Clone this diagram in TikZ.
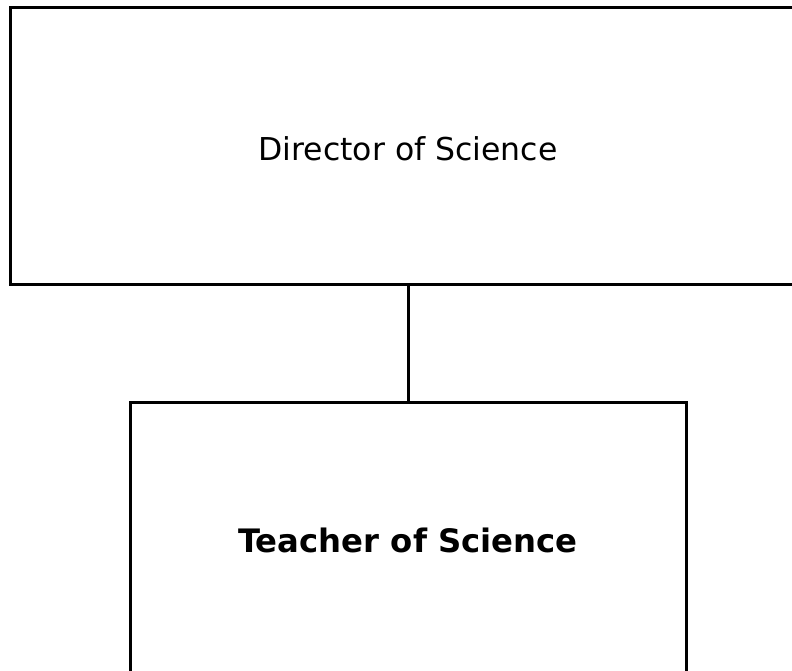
\documentclass[tikz,border=0pt]{standalone}
\usepackage{fontspec}
\setmainfont{DejaVu Sans}
\usepackage{tikz}

\begin{document}
\begin{tikzpicture}[x=1pt, y=1pt,
  post/.style={draw, line width=3pt, inner xsep=0pt, inner ysep=0pt, anchor=base}]
\useasboundingbox (0,0) rectangle (792,671);
\node[post, font=\fontsize{31.5}{37}\selectfont, minimum width=795.5pt, text height=153pt, text depth=124pt] (director) at (408,510) {Director of Science};
\node[post, font=\fontsize{32.3}{38}\selectfont\bfseries, minimum width=556pt, text height=150pt, text depth=160pt] (teacher) at (408,118) {Teacher of Science};
\draw[line width=3pt] (director.south) -- (teacher.north);
\end{tikzpicture}
\end{document}
